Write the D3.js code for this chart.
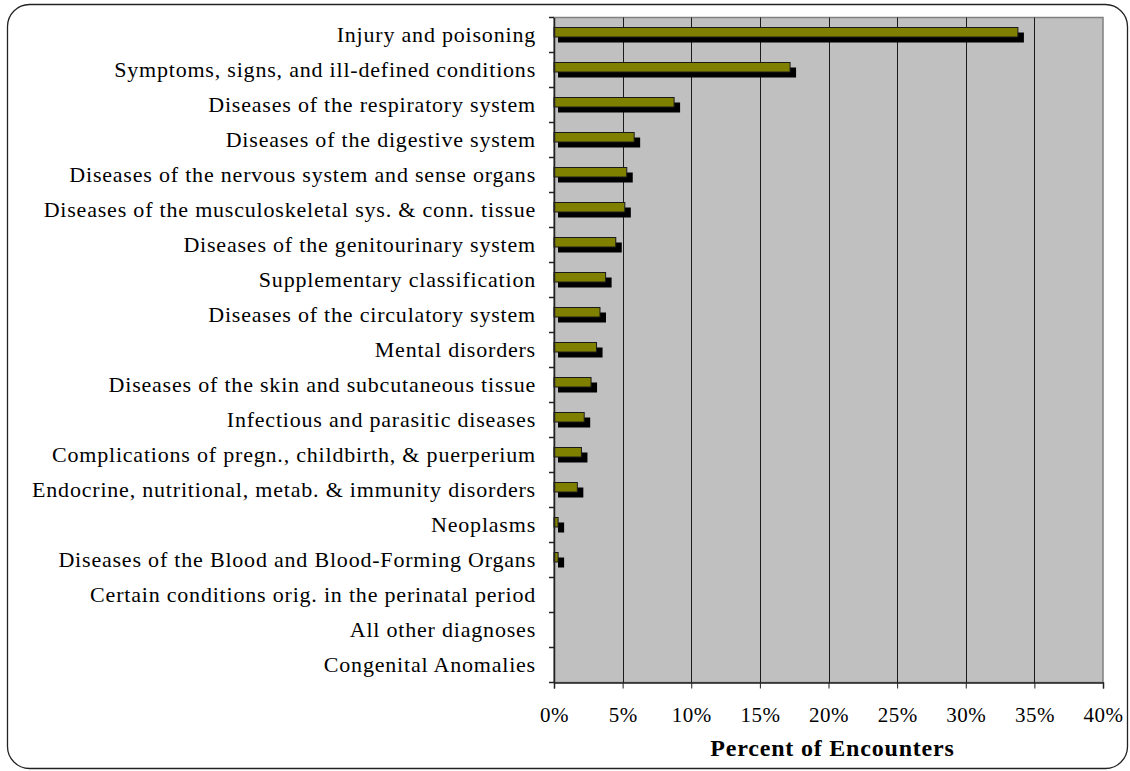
<!DOCTYPE html>
<html><head><meta charset="utf-8">
<script src="https://cdn.jsdelivr.net/npm/d3@7"></script>
<style>body{margin:0;background:#fff}svg{display:block}</style>
</head><body>
<svg id="c" width="1130" height="771"></svg>
<script>
const categories = ["Injury and poisoning","Symptoms, signs, and ill-defined conditions","Diseases of the respiratory system","Diseases of the digestive system","Diseases of the nervous system and sense organs","Diseases of the musculoskeletal sys. & conn. tissue","Diseases of the genitourinary system","Supplementary classification","Diseases of the circulatory system","Mental disorders","Diseases of the skin and subcutaneous tissue","Infectious and parasitic diseases","Complications of pregn., childbirth, & puerperium","Endocrine, nutritional, metab. & immunity disorders","Neoplasms","Diseases of the Blood and Blood-Forming Organs","Certain conditions orig. in the perinatal period","All other diagnoses","Congenital Anomalies"];
const percentValues = [0.338,0.172,0.0875,0.0584,0.053,0.0516,0.045,0.0376,0.0335,0.031,0.027,0.022,0.020,0.017,0.003,0.003,0,0,0];
const tickValues = [0,0.05,0.10,0.15,0.20,0.25,0.30,0.35,0.40];
const axisTitle = "Percent of Encounters";

const svg = d3.select("#c");
const font = "'Liberation Serif','Times New Roman',serif";
const L=554, R=1103, T=17.5, B=682.5;
const x = d3.scaleLinear().domain([0,0.4]).range([L,R]);
const y = d3.scaleBand().domain(categories).range([T,B]).padding(0);

// outer rounded frame
svg.append("rect").attr("x",7.5).attr("y",4.5).attr("width",1120).attr("height",764)
  .attr("rx",22).attr("ry",22).attr("fill","#fff").attr("stroke","#222").attr("stroke-width",1.3);

// plot area
svg.append("rect").attr("x",L).attr("y",T).attr("width",R-L).attr("height",B-T)
  .attr("fill","#c0c0c0").attr("stroke","#808080").attr("stroke-width",1.5);

// gridlines
svg.append("g").selectAll("line").data(tickValues.slice(1,-1)).join("line")
  .attr("x1",d=>Math.round(x(d))+0.5).attr("x2",d=>Math.round(x(d))+0.5)
  .attr("y1",T).attr("y2",B).attr("stroke","#1a1a1a").attr("stroke-width",1);

// shadow bars
const bars = categories.map((c,i)=>({c, v: percentValues[i]})).filter(d=>d.v>0);
svg.append("g").selectAll("rect").data(bars).join("rect")
  .attr("x",x(0)+4).attr("width",d=>x(d.v)-x(0)+2)
  .attr("y",d=>y(d.c)+y.bandwidth()/2-2.5).attr("height",10)
  .attr("fill","#000");
// main bars
svg.append("g").selectAll("rect").data(bars).join("rect")
  .attr("x",x(0)).attr("width",d=>x(d.v)-x(0))
  .attr("y",d=>y(d.c)+y.bandwidth()/2-7.5).attr("height",9.5)
  .attr("fill","#808000").attr("stroke","#1a1a1a").attr("stroke-width",1);

// y axis
const ya = d3.axisLeft(y).tickSize(0).tickPadding(18);
const gy = svg.append("g").attr("transform",`translate(${L},0)`).call(ya);
gy.select(".domain").attr("stroke","#222").attr("stroke-width",1.5);
gy.selectAll("text").attr("font-family",font).attr("font-size",22).attr("letter-spacing","0.8px")
  .attr("fill","#000").attr("dy","0.32em");
// category boundary ticks
svg.append("g").selectAll("line").data(d3.range(categories.length+1)).join("line")
  .attr("x1",L-5).attr("x2",L).attr("y1",i=>T+i*y.step()).attr("y2",i=>T+i*y.step())
  .attr("stroke","#222").attr("stroke-width",1.5);

// x axis
const xa = d3.axisBottom(x).tickValues(tickValues).tickFormat(d3.format(".0%")).tickSize(6).tickPadding(19);
const gx = svg.append("g").attr("transform",`translate(0,${B})`).call(xa);
gx.select(".domain").attr("stroke","#222").attr("stroke-width",1.5);
gx.selectAll(".tick line").attr("stroke","#222");
gx.selectAll("text").attr("font-family",font).attr("font-size",21).attr("letter-spacing","0.5px").attr("fill","#000");

svg.append("text").attr("x",(L+R)/2+4).attr("y",756).attr("text-anchor","middle")
  .attr("font-family",font).attr("font-size",24).attr("letter-spacing","0.8px").attr("font-weight","bold").text(axisTitle);
</script>
</body></html>
